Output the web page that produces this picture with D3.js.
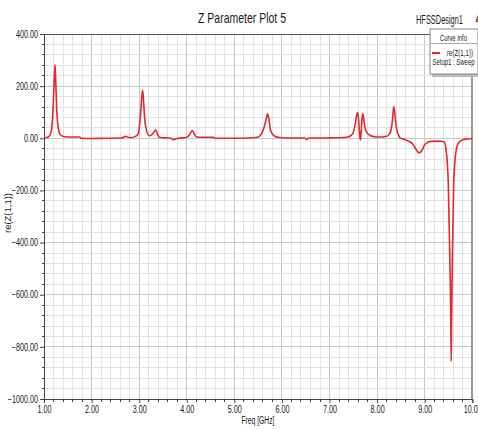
<!DOCTYPE html>
<html>
<head>
<meta charset="utf-8">
<script src="https://cdn.jsdelivr.net/npm/d3@7"></script>
<style>
  html, body { margin: 0; padding: 0; background: #fff; }
  svg { display: block; }
  text { font-family: "Liberation Sans", Arial, sans-serif; fill: #1a1a1a; }
</style>
</head>
<body>
<svg id="chart" width="478" height="429"></svg>
<script>
// ---- Data ----
const title = "Z Parameter Plot 5";
const designName = "HFSSDesign1";
const xLabel = "Freq [GHz]";
const yLabel = "re(Z(1,1))";
const legendTitle = "Curve Info";
const seriesName = "re(Z(1,1))";
const seriesSetup = "Setup1 : Sweep";

const xTicks = [1, 2, 3, 4, 5, 6, 7, 8, 9, 10];
const yTicks = [400, 200, 0, -200, -400, -600, -800, -1000];

const freq = [
  1.00, 1.08, 1.12, 1.16, 1.19, 1.215, 1.232, 1.25, 1.27, 1.30, 1.33, 1.38, 1.45, 1.60, 1.75, 1.78,
  2.00, 2.30, 2.60, 2.67, 2.72, 2.78, 2.85, 2.93, 2.97, 3.00, 3.03, 3.055, 3.073, 3.09, 3.11, 3.14,
  3.21, 3.27, 3.31, 3.35, 3.39, 3.42, 3.50, 3.62, 3.68, 3.72, 3.77, 3.82, 3.98, 4.05, 4.09, 4.12,
  4.15, 4.20, 4.30, 4.56, 4.60, 5.00, 5.30, 5.45, 5.50, 5.57, 5.63, 5.67, 5.70, 5.73, 5.76, 5.85,
  5.95, 6.20, 6.48, 6.52, 6.56, 6.80, 7.10, 7.30, 7.40, 7.46, 7.50, 7.54, 7.57, 7.59, 7.61, 7.63,
  7.65, 7.67, 7.685, 7.70, 7.72, 7.76, 7.85, 7.99, 8.10, 8.20, 8.25, 8.29, 8.32, 8.35, 8.38, 8.41,
  8.45, 8.48, 8.55, 8.62, 8.68, 8.74, 8.81, 8.88, 8.95, 8.99, 9.05, 9.13, 9.27, 9.36, 9.41, 9.45,
  9.495, 9.525, 9.548, 9.556, 9.566, 9.583, 9.61, 9.66, 9.72, 9.80, 9.90, 10.00
];
const reZ11 = [
  2, 4, 10, 35, 110, 230, 283, 200, 100, 40, 17, 9, 6, 5, 5, 0,
  -1, 0, 1, 4, 8, 3, 3, 8, 14, 36, 95, 160, 184, 150, 90, 42,
  10, 14, 24, 32, 14, 4, 2, 1, -1, -5, -2, 0, 3, 12, 24, 30,
  20, 6, 4, 4, 0, 0, 1, 3, 5, 17, 45, 75, 94, 70, 30, 8,
  3, 1, 1, -5, 1, 1, 2, 3, 6, 12, 23, 55, 88, 100, 75, 20,
  -6, 40, 80, 94, 70, 30, 11, 5, 5, 8, 14, 30, 65, 122, 80, 35,
  12, 2, -3, -8, -13, -20, -40, -56, -44, -27, -17, -12, -11, -12, -14, -47,
  -170, -433, -690, -855, -690, -433, -170, -47, -15, -6, -3, -2
];

// ---- Layout ----
const plot = { left: 44, right: 472.3, top: 34, bottom: 399 };
const svg = d3.select("#chart");

const x = d3.scaleLinear().domain([1, 10]).range([plot.left, plot.right]);
const y = d3.scaleLinear().domain([-1000, 400]).range([plot.bottom, plot.top]);

// squeeze text horizontally to imitate the condensed font of the reference
function condense(sel, factor) {
  sel.each(function () {
    const w = this.getComputedTextLength();
    d3.select(this).attr("textLength", w * factor).attr("lengthAdjust", "spacingAndGlyphs");
  });
}
function fitWidth(sel, width) {
  sel.attr("textLength", width).attr("lengthAdjust", "spacingAndGlyphs");
}

// Grid
const gGrid = svg.append("g");
const xMinor = d3.range(1, 10.0001, 0.2);
const yMinor = d3.range(-1000, 400.0001, 40);
gGrid.selectAll(".vx").data(xMinor).enter().append("line")
  .attr("x1", d => x(d)).attr("x2", d => x(d))
  .attr("y1", plot.top).attr("y2", plot.bottom)
  .attr("stroke", d => Math.abs(d - Math.round(d)) < 1e-6 ? "#c8c8c8" : "#e3e3e3")
  .attr("stroke-width", 1).attr("shape-rendering", "crispEdges");
gGrid.selectAll(".hy").data(yMinor).enter().append("line")
  .attr("x1", plot.left).attr("x2", plot.right)
  .attr("y1", d => y(d)).attr("y2", d => y(d))
  .attr("stroke", d => Math.abs(d % 200) < 1e-6 ? "#c8c8c8" : "#e3e3e3")
  .attr("stroke-width", 1).attr("shape-rendering", "crispEdges");

// Borders
svg.append("line").attr("x1", plot.left).attr("x2", plot.right).attr("y1", plot.top).attr("y2", plot.top)
  .attr("stroke", "#555").attr("stroke-width", 1).attr("shape-rendering", "crispEdges");
svg.append("line").attr("x1", plot.right).attr("x2", plot.right).attr("y1", plot.top).attr("y2", plot.bottom)
  .attr("stroke", "#999").attr("stroke-width", 2).attr("shape-rendering", "crispEdges");

// Y axis
const yAxis = d3.axisLeft(y).tickValues(yTicks).tickSize(4).tickFormat(d3.format(".2f"));
const gy = svg.append("g").attr("transform", `translate(${plot.left},0)`).call(yAxis);
gy.selectAll(".tick text").attr("font-size", "10px").attr("x", -6)
  .style("font-family", '"Liberation Sans", Arial, sans-serif').style("fill", "#1a1a1a")
  .call(condense, 0.72);
gy.select(".domain").attr("stroke", "#444");
gy.selectAll(".tick line").attr("stroke", "#444");
svg.append("g").selectAll("line").data(yMinor.filter(d => Math.abs(d % 200) > 1e-6)).enter().append("line")
  .attr("x1", plot.left - 2).attr("x2", plot.left).attr("y1", d => y(d)).attr("y2", d => y(d))
  .attr("stroke", "#444").attr("shape-rendering", "crispEdges");

// X axis
const xAxis = d3.axisBottom(x).tickValues(xTicks).tickSize(4).tickFormat(d3.format(".2f"));
const gx = svg.append("g").attr("transform", `translate(0,${plot.bottom})`).call(xAxis);
gx.selectAll(".tick text").attr("font-size", "10px").attr("y", 6.5).attr("dy", "0.71em")
  .style("font-family", '"Liberation Sans", Arial, sans-serif').style("fill", "#1a1a1a")
  .call(condense, 0.72);
gx.select(".domain").attr("stroke", "#444");
gx.selectAll(".tick line").attr("stroke", "#444");
svg.append("g").selectAll("line").data(xMinor.filter(d => Math.abs(d - Math.round(d)) > 1e-6)).enter().append("line")
  .attr("x1", d => x(d)).attr("x2", d => x(d)).attr("y1", plot.bottom).attr("y2", plot.bottom + 3)
  .attr("stroke", "#444").attr("shape-rendering", "crispEdges");

// Curve
const pts = freq.map((f, i) => [f, reZ11[i]]);
const line = d3.line().x(d => x(d[0])).y(d => y(d[1])).curve(d3.curveMonotoneX);
svg.append("path").datum(pts).attr("d", line)
  .attr("fill", "none").attr("stroke", "#e8272b").attr("stroke-width", 1.6)
  .attr("stroke-linejoin", "round");

// Titles
svg.append("text").attr("x", 242).attr("y", 23).attr("text-anchor", "middle")
  .attr("font-size", "15px").text(title).call(fitWidth, 88);
svg.append("text").attr("x", 416).attr("y", 24).attr("font-size", "12px").text(designName).call(fitWidth, 47);
svg.append("path").attr("d", "M475.5,22 L477.5,15 L479.5,22 Z").attr("fill", "#c0392b");

svg.append("text").attr("x", 258).attr("y", 424).attr("text-anchor", "middle")
  .attr("font-size", "10px").text(xLabel).call(fitWidth, 33);
svg.append("text").attr("transform", "translate(11,213) rotate(-90)").attr("text-anchor", "middle")
  .attr("font-size", "9px").text(yLabel).call(fitWidth, 40);

// Legend
const lg = svg.append("g");
lg.append("rect").attr("x", 432).attr("y", 31).attr("width", 48).attr("height", 46).attr("fill", "#bbb");
lg.append("rect").attr("x", 430).attr("y", 29).attr("width", 48).attr("height", 45)
  .attr("fill", "#fff").attr("stroke", "#888").attr("stroke-width", 1);
lg.append("line").attr("x1", 430).attr("x2", 478).attr("y1", 43.5).attr("y2", 43.5).attr("stroke", "#aaa");
lg.append("text").attr("x", 453.5).attr("y", 40.5).attr("text-anchor", "middle").attr("font-size", "9.5px")
  .text(legendTitle).call(fitWidth, 27);
lg.append("line").attr("x1", 432).attr("x2", 440).attr("y1", 53).attr("y2", 53)
  .attr("stroke", "#e8272b").attr("stroke-width", 2);
lg.append("text").attr("x", 447).attr("y", 56).attr("font-size", "9px").text(seriesName).call(fitWidth, 26);
lg.append("text").attr("x", 432.5).attr("y", 64.5).attr("font-size", "9px").text(seriesSetup).call(fitWidth, 42);
</script>
</body>
</html>
